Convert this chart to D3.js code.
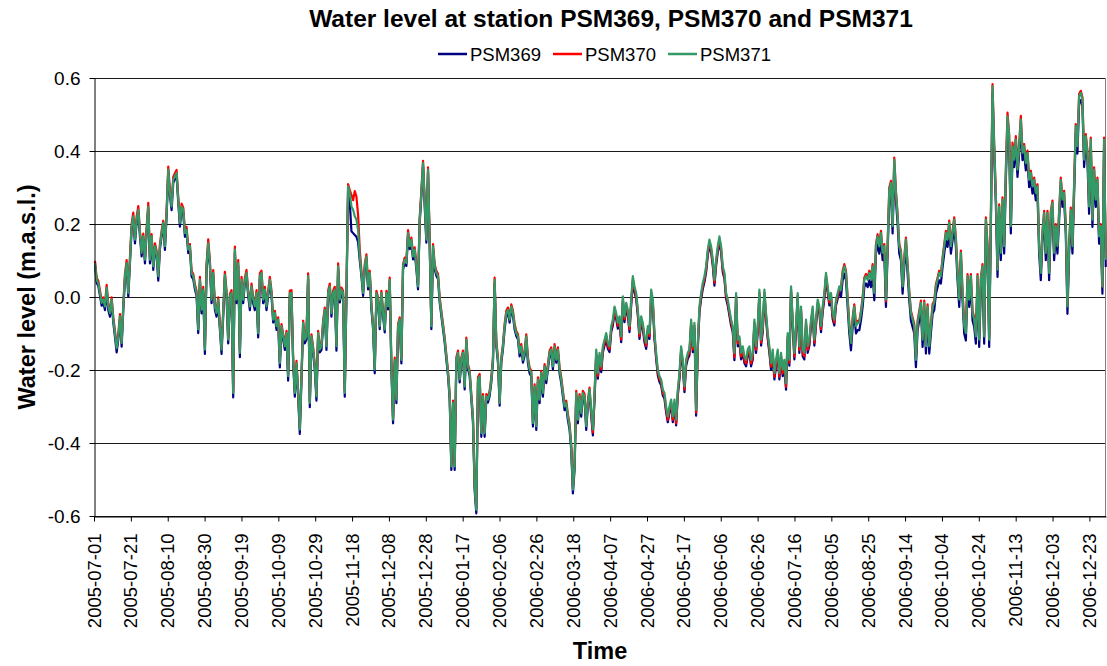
<!DOCTYPE html>
<html>
<head>
<meta charset="utf-8">
<script src="https://cdn.jsdelivr.net/npm/d3@7"></script>
<style>
body { margin: 0; background: #fff; }
svg text { font-family: Arial, "Liberation Sans", sans-serif; fill: #000; }
</style>
</head>
<body>
<div class="chart"></div>
<script>
/*
water level readings, mm above sea level
one reading every ~21.7 h starting 2005-07-01 13:00
*/
var psm369 = [
 85, 39, 30, 3, -24, -15, -36, 17, -36, -54,
 -15, -70, -109, -152, -116, -61, -136, -34, 49, 85,
 1, 94, 186, 213, 147, 204, 231, 165, 111, 158,
 92, 176, 240, 92, 158, 74, 131, 113, 45, 131,
 167, 195, 129, 222, 341, 277, 238, 313, 323, 332,
 259, 193, 240, 229, 165, 176, 120, 131, 56, 49,
 21, 3, -99, 39, -45, 12, -156, 76, 140, 85,
 -17, 58, -34, -54, -15, -88, -156, -52, 53, 1,
 -127, -6, 3, -275, 122, -17, 85, -165, 39, -17,
 39, 58, 3, -36, 21, -17, -36, 3, -111, 49,
 58, -17, 12, -36, 3, 39, 3, -70, -52, -90,
 -70, -193, -88, -116, -145, -107, -229, 3, 1, -180,
 -273, -189, -273, -375, -227, -79, -127, -116, 49, -302,
 -116, -152, -200, -284, -107, -152, -145, -79, -43, -145,
 3, 21, -54, 3, 12, -147, 76, -15,
 12, 3, -273, 3, 290, 260, 180, 175, 170, 165,
 150, 100, 58, 3, 76, 103, 21, 58, -34, -88,
 -209, 3, -15, -88, 3, -52, -97, 3, -34, 39,
 -200, -346, -180, -291, -88, -70, -182, 76, 94, 85,
 167, 131, 149, 103, 122, 76, 21, 204, 277, 359,
 250, 149, 341, 140, -88, 131, 76, 58, 49, -15,
 -52, -88, -125, -171, -216, -280, -474, -298, -474, -180,
 -161, -234, -180, -161, -253, -125, -198, -216, -280, -344,
 -529, -593, -234, -225, -383, -280, -383, -280, -289, -271,
 -234, -180, 39, -134, -180, -298, -180, -143, -88, -52,
 -43, -70, -34, -52, -88, -107, -116, -163, -143, -180,
 -161, -116, -182, -209, -218, -355, -253, -364, -234, -291,
 -216, -273, -198, -236, -198, -161, -152, -198, -143, -180,
 -152, -209, -236, -273, -310, -300, -337, -364, -419, -538,
 -474, -271, -346, -280, -328, -271, -280, -364, -298, -262,
 -325, -379, -279, -160, -224, -169, -206, -151, -133, -115,
 -142, -151, -96, -78, -42, -60, -87, -69, -124, -14,
 -69, -32, -51, -96, -23, 41, 13, -5, -51, -115,
 -69, -87, -124, -142, -96, -115, 4, -23, -115, -169,
 -215, -233, -242, -270, -279, -316, -343, -316, -297, -343,
 -297, -352, -270, -224, -151, -188, -261, -188, -169, -160,
 -78, -151, -87, -325, -142, -42, -5, 22, 41, 68,
 114, 141, 123, 86, 31, 86, 123, 150, 123, 68,
 50, -5, -23, -51, -78, -96, -173, -5, -135, -126,
 -171, -153, -181, -190, -162, -153, -190, -171, -78, -153,
 -96, 4, -133, -96, 4, -60, -115, -153, -199, -162,
 -226, -190, -162, -226, -171, -217, -190, -254, -115, -188,
 13, -78, -171, -96, -5, -153, -42, -162, -171, -78,
 -153, -133, -78, -42, -133, -78, -23, -42, -96, -42,
 -5, 50, 13, -23, -5, -60, -78, -23, -5, 13,
 0, 46, 64, 46, -27, -100, -146, -82, -46, -100,
 -91, -91, -64, -27, 27, 37, 27, 46, 27, 64,
 -9, 119, 146, 119, 155, 101, 119, -27, 119, 274,
 292, 174, 356, 265, 201, 119, 101, 9, 82, 137,
 64, -9, -64, -82, -100, -192, -91, -64, -36, -137,
 -36, -155, -46, -155, -100, -46, -36, 9, 27, 46,
 37, 82, 119, 155, 137, 183, 119, 155, 192, 137,
 46, -27, 101, -9, -100, -119, 37, -27, 37, -64,
 -82, -128, 37, -137, 27, 64, -128, 192, 119, -137,
 192, 557, 393, 256, 55, 228, 101, 247, 119, 320,
 475, 420, 174, 393, 356, 411, 329, 393, 466, 375,
 393, 347, 375, 301, 320, 283, 301, 265, 283, 119,
 46, 155, 210, 101, 210, 46, 210, 238, 101, 174,
 119, 210, 301, 247, 265, 174, -46, 119, 219, 119,
 283, 448, 393, 530, 539, 521, 356, 420, 375, 228,
 411, 192, 329, 247, 301, 146, 174, 9, 411, 82
];

var psm370 = [
 99, 53, 44, 17, -10, -1, -20, 33, -20, -38,
 -1, -56, -93, -134, -102, -47, -120, -20, 63, 101,
 17, 110, 200, 231, 163, 220, 249, 181, 127, 174,
 108, 190, 258, 108, 172, 90, 147, 127, 63, 145,
 181, 209, 145, 238, 357, 291, 254, 329, 339, 348,
 273, 209, 256, 245, 181, 192, 136, 145, 72, 63,
 35, 17, -83, 55, -29, 28, -138, 90, 158, 99,
 -1, 74, -20, -38, -1, -74, -138, -38, 69, 17,
 -111, 8, 19, -257, 138, -1, 101, -147, 55, -1,
 53, 74, 17, -20, 37, -1, -20, 19, -93, 65,
 72, -1, 28, -20, 17, 55, 17, -56, -38, -74,
 -56, -175, -74, -102, -129, -93, -211, 17, 19, -166,
 -257, -175, -257, -357, -211, -65, -111, -102, 65, -284,
 -102, -138, -184, -266, -93, -138, -129, -65, -29, -129,
 17, 37, -38, 17, 28, -129, 92, -1,
 26, 17, -257, 17, 309, 293, 280, 265, 290, 275,
 225, 130, 72, 17, 90, 117, 35, 72, -20, -74,
 -193, 17, -1, -74, 17, -38, -83, 17, -20, 53,
 -184, -330, -166, -275, -74, -56, -166, 90, 108, 99,
 183, 145, 163, 117, 136, 90, 35, 218, 291, 373,
 264, 163, 355, 154, -74, 145, 90, 72, 63, -1,
 -38, -74, -111, -157, -202, -266, -458, -284, -458, -166,
 -147, -220, -166, -147, -239, -111, -184, -202, -266, -330,
 -513, -577, -220, -211, -367, -266, -367, -266, -275, -257,
 -220, -166, 53, -120, -166, -284, -166, -129, -74, -38,
 -29, -56, -20, -38, -74, -93, -102, -147, -129, -166,
 -147, -102, -166, -193, -202, -339, -239, -348, -220, -275,
 -202, -257, -184, -220, -184, -147, -138, -184, -129, -166,
 -138, -193, -220, -257, -294, -284, -321, -348, -403, -522,
 -458, -257, -330, -266, -312, -257, -266, -348, -284, -248,
 -317, -371, -271, -152, -216, -161, -198, -143, -125, -107,
 -134, -143, -88, -70, -34, -52, -79, -61, -116, -6,
 -61, -24, -43, -88, -15, 49, 21, 3, -43, -107,
 -61, -79, -116, -134, -88, -107, 12, -15, -107, -161,
 -207, -225, -234, -262, -271, -308, -337, -308, -289, -337,
 -289, -346, -262, -216, -143, -180, -253, -180, -161, -152,
 -70, -143, -79, -317, -134, -34, 3, 30, 49, 76,
 122, 149, 131, 94, 39, 94, 131, 158, 131, 76,
 58, 3, -15, -43, -70, -88, -165, 3, -127, -118,
 -163, -145, -173, -182, -154, -145, -182, -163, -70, -145,
 -88, 12, -125, -88, 12, -52, -107, -145, -191, -154,
 -218, -182, -154, -218, -163, -209, -182, -246, -107, -180,
 21, -70, -163, -88, 3, -145, -34, -154, -163, -70,
 -145, -125, -70, -34, -125, -70, -15, -34, -88, -34,
 3, 58, 21, -15, 3, -52, -70, -15, 3, 21,
 26, 72, 90, 72, -1, -74, -120, -56, -20, -74,
 -65, -65, -38, -1, 53, 63, 53, 72, 53, 90,
 17, 145, 172, 145, 181, 127, 145, -12, 145, 300,
 318, 200, 382, 291, 227, 145, 127, 35, 108, 163,
 90, 17, -38, -56, -74, -166, -65, -38, -10, -111,
 -10, -129, -20, -129, -74, -20, -10, 35, 53, 72,
 63, 108, 145, 181, 163, 209, 145, 181, 218, 163,
 72, -1, 127, 17, -74, -93, 63, -1, 63, -38,
 -56, -102, 63, -111, 53, 90, -102, 218, 145, -111,
 218, 583, 419, 282, 81, 254, 127, 273, 145, 350,
 505, 446, 200, 423, 382, 441, 355, 419, 496, 401,
 419, 373, 401, 327, 346, 309, 327, 291, 309, 145,
 72, 181, 236, 127, 236, 72, 236, 264, 127, 200,
 145, 236, 327, 273, 291, 200, -20, 145, 245, 145,
 309, 474, 419, 556, 565, 547, 382, 446, 401, 254,
 437, 218, 355, 273, 327, 172, 200, 29, 437, 108
];

var psm371 = [
 93, 47, 38, 11, -16, -7, -26, 25, -26, -44,
 -7, -62, -99, -140, -108, -53, -126, -26, 57, 93,
 11, 102, 194, 221, 157, 212, 239, 175, 121, 166,
 102, 184, 248, 102, 166, 84, 139, 121, 57, 139,
 175, 203, 139, 230, 349, 285, 248, 321, 331, 340,
 267, 203, 248, 239, 175, 184, 130, 139, 66, 57,
 29, 11, -89, 47, -35, 20, -144, 84, 148, 93,
 -7, 66, -26, -44, -7, -80, -144, -44, 61, 11,
 -117, 2, 11, -263, 130, -7, 93, -153, 47, -7,
 47, 66, 11, -26, 29, -7, -26, 11, -99, 57,
 66, -7, 20, -26, 11, 47, 11, -62, -44, -80,
 -62, -181, -80, -108, -135, -99, -217, 11, 11, -172,
 -263, -181, -263, -363, -217, -71, -117, -108, 57, -290,
 -108, -144, -190, -272, -99, -144, -135, -71, -35, -135,
 11, 29, -44, 11, 20, -135, 84, -7,
 20, 11, -263, 11, 303, 285, 248, 239, 221, 212,
 184, 111, 66, 11, 84, 111, 29, 66, -26, -80,
 -199, 11, -7, -80, 11, -44, -89, 11, -26, 47,
 -190, -336, -172, -281, -80, -62, -172, 84, 102, 93,
 175, 139, 157, 111, 130, 84, 29, 212, 285, 367,
 258, 157, 349, 148, -80, 139, 84, 66, 57, -7,
 -44, -80, -117, -163, -208, -272, -464, -290, -464, -172,
 -153, -226, -172, -153, -245, -117, -190, -208, -272, -336,
 -519, -583, -226, -217, -373, -272, -373, -272, -281, -263,
 -226, -172, 47, -126, -172, -290, -172, -135, -80, -44,
 -35, -62, -26, -44, -80, -99, -108, -153, -135, -172,
 -153, -108, -172, -199, -208, -345, -245, -354, -226, -281,
 -208, -263, -190, -226, -190, -153, -144, -190, -135, -172,
 -144, -199, -226, -263, -300, -290, -327, -354, -409, -528,
 -464, -263, -336, -272, -318, -263, -272, -354, -290, -254,
 -309, -363, -263, -144, -208, -153, -190, -135, -117, -99,
 -126, -135, -80, -62, -26, -44, -71, -53, -108, 2,
 -53, -16, -35, -80, -7, 57, 29, 11, -35, -99,
 -53, -71, -108, -126, -80, -99, 20, -7, -99, -153,
 -199, -217, -226, -254, -263, -300, -327, -300, -281, -327,
 -281, -336, -254, -208, -135, -172, -245, -172, -153, -144,
 -62, -135, -71, -309, -126, -26, 11, 38, 57, 84,
 130, 157, 139, 102, 47, 102, 139, 166, 139, 84,
 66, 11, -7, -35, -62, -80, -153, 11, -117, -108,
 -153, -135, -163, -172, -144, -135, -172, -153, -62, -135,
 -80, 20, -117, -80, 20, -44, -99, -135, -181, -144,
 -208, -172, -144, -208, -153, -199, -172, -236, -99, -172,
 29, -62, -153, -80, 11, -135, -26, -144, -153, -62,
 -135, -117, -62, -26, -117, -62, -7, -26, -80, -26,
 11, 66, 29, -7, 11, -44, -62, -7, 11, 29,
 20, 66, 84, 66, -7, -80, -126, -62, -26, -80,
 -71, -71, -44, -7, 47, 57, 47, 66, 47, 84,
 11, 139, 166, 139, 175, 121, 139, -7, 139, 294,
 312, 194, 376, 285, 221, 139, 121, 29, 102, 157,
 84, 11, -44, -62, -80, -172, -71, -44, -16, -117,
 -16, -135, -26, -135, -80, -26, -16, 29, 47, 66,
 57, 102, 139, 175, 157, 203, 139, 175, 212, 157,
 66, -7, 121, 11, -80, -99, 57, -7, 57, -44,
 -62, -108, 57, -117, 47, 84, -108, 212, 139, -117,
 212, 577, 413, 276, 75, 248, 121, 267, 139, 340,
 495, 440, 194, 413, 376, 431, 349, 413, 486, 395,
 413, 367, 395, 321, 340, 303, 321, 285, 303, 139,
 66, 175, 230, 121, 230, 66, 230, 258, 121, 194,
 139, 230, 321, 267, 285, 194, -26, 139, 239, 139,
 303, 468, 413, 550, 559, 541, 376, 440, 395, 248,
 431, 212, 349, 267, 321, 166, 194, 29, 431, 102
];

var seriesNames  = ['PSM369', 'PSM370', 'PSM371'];
var seriesColors = ['#000080', '#ff0000', '#339966'];

var yTicks      = [-0.6, -0.4, -0.2, 0, 0.2, 0.4, 0.6];
var yTickLabels = ['-0.6', '-0.4', '-0.2', '0.0', '0.2', '0.4', '0.6'];

var xTickLabels = [
 '2005-07-01', '2005-07-21', '2005-08-10', '2005-08-30', '2005-09-19',
 '2005-10-09', '2005-10-29', '2005-11-18', '2005-12-08', '2005-12-28',
 '2006-01-17', '2006-02-06', '2006-02-26', '2006-03-18', '2006-04-07',
 '2006-04-27', '2006-05-17', '2006-06-06', '2006-06-26', '2006-07-16',
 '2006-08-05', '2006-08-25', '2006-09-14', '2006-10-04', '2006-10-24',
 '2006-11-13', '2006-12-03', '2006-12-23'
];

var firstReading = Date.UTC(2005, 6, 1, 13);
var readingStepHours = 21.68;


/*-------------------------------------------------------*/
function main(){
    var width  = 1107;
    var height = 666;
    var margin = { top: 78, right: 1, bottom: 150, left: 94 };
    var w = width - margin.left - margin.right;
    var h = height - margin.top - margin.bottom;

    var parseDay = d3.utcParse('%Y-%m-%d');

    // scales
    var x = d3.scaleUtc()
        .domain([parseDay('2005-07-01'), parseDay('2007-01-01')])
        .range([0, w]);
    var y = d3.scaleLinear()
        .domain([-0.6, 0.6])
        .range([h, 0]);

    var svg = d3.select('.chart').append('svg')
        .attr('width', width)
        .attr('height', height);

    svg.append('rect')
        .attr('width', width)
        .attr('height', height)
        .attr('fill', '#fff');

    var g = svg.append('g')
        .attr('transform', `translate(${margin.left}, ${margin.top})`);

    // horizontal gridlines
    g.selectAll('.grid')
        .data(yTicks)
        .enter().append('line')
        .attr('class', 'grid')
        .attr('x1', 0)
        .attr('x2', w)
        .attr('y1', (d) => { return Math.round(y(d)) + 0.5; })
        .attr('y2', (d) => { return Math.round(y(d)) + 0.5; })
        .attr('stroke', '#1a1a1a')
        .attr('stroke-width', 1.2);

    // plot area border on the right
    g.append('line')
        .attr('x1', w - 0.5)
        .attr('x2', w - 0.5)
        .attr('y1', 0)
        .attr('y2', h)
        .attr('stroke', '#808080')
        .attr('stroke-width', 1);

    // the three series, 369 first so 371 ends on top
    var line = d3.line()
        .x((d, i) => { return x(new Date(firstReading + i * readingStepHours * 3600000)); })
        .y((d) => { return y(d / 1000); })
        .curve(d3.curveLinear);

    [psm369, psm370, psm371].forEach((vals, k) => {
        g.append('path')
            .datum(vals)
            .attr('fill', 'none')
            .attr('stroke', seriesColors[k])
            .attr('stroke-width', 2.2)
            .attr('stroke-linejoin', 'round')
            .attr('d', line);
    });

    // x axis
    var xAxis = g.append('g')
        .attr('transform', `translate(0, ${Math.round(h) + 0.5})`)
        .call(d3.axisBottom(x)
            .tickValues(xTickLabels.map(parseDay))
            .tickFormat(d3.utcFormat('%Y-%m-%d'))
            .tickSize(5)
            .tickSizeOuter(0));
    xAxis.select('.domain').attr('stroke', '#000');
    xAxis.selectAll('line').attr('stroke', '#000');
    xAxis.selectAll('text')
        .attr('font-size', 18.5)
        .attr('font-family', 'Arial, "Liberation Sans", sans-serif')
        .style('text-anchor', 'end')
        .attr('transform', 'rotate(-90)')
        .attr('x', -17)
        .attr('y', 6)
        .attr('dy', 0);

    // y axis
    var yAxis = g.append('g')
        .attr('transform', 'translate(0.5, 0)')
        .call(d3.axisLeft(y)
            .tickValues(yTicks)
            .tickFormat((d, i) => { return yTickLabels[i]; })
            .tickSize(5)
            .tickSizeOuter(0));
    yAxis.select('.domain').attr('stroke', '#000');
    yAxis.selectAll('line').attr('stroke', '#000');
    yAxis.selectAll('text')
        .attr('font-size', 19)
        .attr('font-family', 'Arial, "Liberation Sans", sans-serif')
        .attr('x', -14)
        .attr('dy', '0.35em');

    // title
    svg.append('text')
        .attr('x', 611)
        .attr('y', 27)
        .attr('text-anchor', 'middle')
        .attr('font-size', 24.5)
        .attr('font-weight', 'bold')
        .text('Water level at station PSM369, PSM370 and PSM371');

    // axis titles
    svg.append('text')
        .attr('transform', `translate(35, ${margin.top + h / 2}) rotate(-90)`)
        .attr('text-anchor', 'middle')
        .attr('font-size', 23.5)
        .attr('font-weight', 'bold')
        .text('Water level (m.a.s.l.)');

    svg.append('text')
        .attr('x', margin.left + w / 2)
        .attr('y', 659)
        .attr('text-anchor', 'middle')
        .attr('font-size', 23.5)
        .attr('font-weight', 'bold')
        .text('Time');

    // legend
    var legend = svg.append('g')
        .attr('transform', 'translate(438, 54)');
    var item = legend.selectAll('.item')
        .data(seriesNames)
        .enter().append('g')
        .attr('class', 'item')
        .attr('transform', (d, i) => { return `translate(${i * 115}, 0)`; });
    item.append('line')
        .attr('x1', 0)
        .attr('x2', 29)
        .attr('stroke', (d, i) => { return seriesColors[i]; })
        .attr('stroke-width', 2.5);
    item.append('text')
        .attr('x', 32)
        .attr('y', 6.5)
        .attr('font-size', 18.5)
        .text((d) => { return d; });
}

/* initialize */
main();
</script>
</body>
</html>
